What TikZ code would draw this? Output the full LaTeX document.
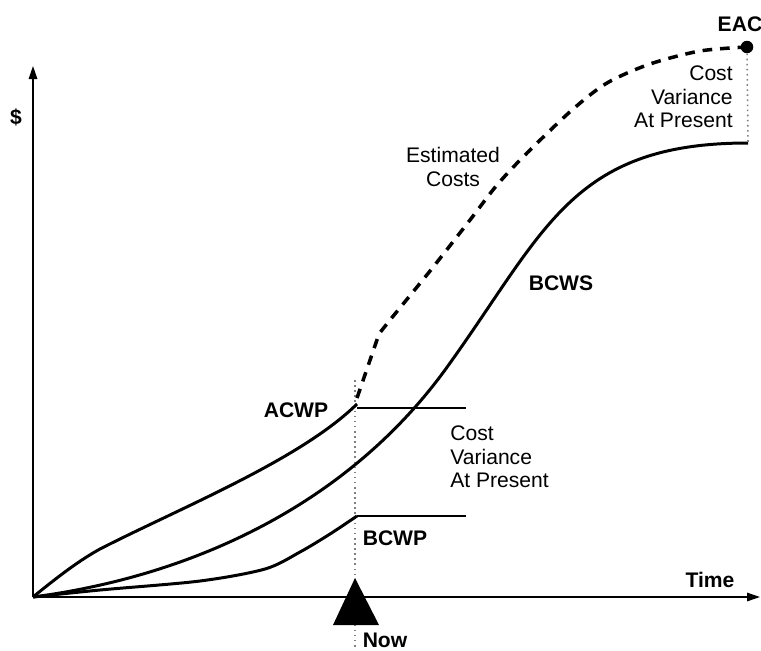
\documentclass[tikz,border=0pt]{standalone}
\usepackage{fontspec}
\setmainfont{Liberation Sans}
\usetikzlibrary{arrows.meta}
\begin{document}
\begin{tikzpicture}[x=0.02cm,y=-0.02cm,
  axis/.style={line width=0.8pt,-{Triangle[length=2.6mm,width=1.7mm]}},
  curve/.style={line width=1.7pt},
  estim/.style={line width=2pt,dash pattern=on 5.5pt off 4.5pt},
  guide/.style={line width=0.9pt,dotted,gray},
  tick/.style={line width=0.6pt},
  lbl/.style={font=\fontsize{12}{13.5}\selectfont\bfseries,inner sep=0pt},
  txt/.style={font=\fontsize{12}{13.5}\selectfont,inner sep=0pt}]
\useasboundingbox (0,0) rectangle (761,650);

\coordinate (O) at (33,597);
\coordinate (ytop) at (33,66);
\coordinate (xend) at (760,597);
\coordinate (acwpbend) at (100,549);
\coordinate (acwpend) at (357,404);
\coordinate (bcwsmid) at (445,370);
\coordinate (bcwpend) at (357,516);
\coordinate (bcwsend) at (748,143);
\coordinate (nowtop) at (355,380);
\coordinate (nowbot) at (355,650);
\coordinate (hi) at (466,408);
\coordinate (lo) at (466,516);
\node[circle,fill,inner sep=0pt,minimum size=0.25cm] (eac) at (747,47) {};

% axes
\path[draw,axis] (O) -- (ytop);
\path[draw,axis] (O) -- (xend);
\node[lbl] (dollar) at (16,117) {\$};
\node[lbl] (time) at (710,580) {Time};

% now marker
\path[draw,guide] (nowtop) -- (nowbot);
\fill (355,578) -- (333,625) -- (379,625) -- cycle;
\node[lbl] (now) at (385,640) {Now};

% curves
\draw[curve] (O) .. controls (60,575) and (80,560) .. (acwpbend)
  .. controls (180,508) and (300,460) .. (acwpend);
\draw[curve] (O) .. controls (200,575) and (350,500) .. (bcwsmid)
  .. controls (545,232) and (570,143) .. (bcwsend);
\draw[curve] plot[smooth] coordinates {(O) (100,590) (200,581) (265,569) (300,552) (330,534) (bcwpend)};
\draw[estim] (357,398) -- plot[smooth] coordinates {(379,334) (390,320) (430,271) (470,220) (497,185) (527,153) (572,110) (607,83) (650,64) (700,51) (eac)};

% variance marks
\path[draw,tick] (357,408) -- (hi);
\path[draw,tick] (bcwpend) -- (lo);
\path[draw,guide] (eac) -- (bcwsend);

\node[lbl] (acwp) at (296,410) {ACWP};
\node[lbl] (bcwp) at (395,538) {BCWP};
\node[lbl] (bcws) at (561,283) {BCWS};
\node[lbl] (eaclbl) at (740,24) {EAC};
\node[txt,align=center] (estcost) at (453,167) {Estimated\\Costs};
\node[txt,align=left,anchor=west] (cvnow) at (450,457) {Cost\\Variance\\At Present};
\node[txt,align=right,anchor=east] (cvend) at (733,97) {Cost\\Variance\\At Present};
\end{tikzpicture}
\end{document}
